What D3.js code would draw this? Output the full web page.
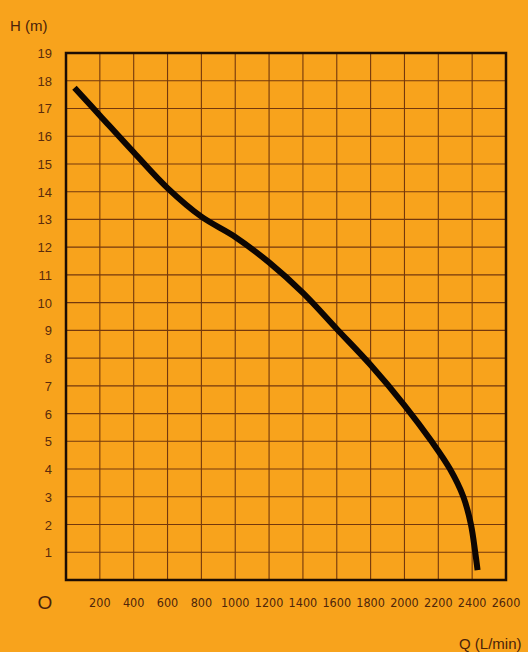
<!DOCTYPE html>
<html>
<head>
<meta charset="utf-8">
<script src="https://cdn.jsdelivr.net/npm/d3@7"></script>
<style>
  html, body { margin: 0; padding: 0; background: #f8a31c; }
  svg { display: block; }
  .ylab { font-family: "Liberation Sans", Arial, sans-serif; font-size: 13px; fill: #5a2c0c; }
  .xlab { font-family: "Liberation Sans Narrow", "DejaVu Sans Condensed", sans-serif; font-size: 12.5px; fill: #4f260a; }
  .title { font-family: "Liberation Sans", Arial, sans-serif; font-size: 15px; fill: #4a220a; }
</style>
</head>
<body>
<svg id="chart" width="528" height="652"></svg>
<script>
// pump curve: flow Q (L/min) vs head H (m)
const flow = [50, 200, 400, 600, 800, 1000, 1200, 1400, 1600, 1800, 2000, 2160, 2269, 2348, 2393, 2418, 2432];
const head = [17.75, 16.75, 15.42, 14.13, 13.1, 12.37, 11.45, 10.35, 9.05, 7.75, 6.3, 5.0, 4.0, 3.0, 2.0, 1.0, 0.36];
const xTicks = [200, 400, 600, 800, 1000, 1200, 1400, 1600, 1800, 2000, 2200, 2400, 2600];
const yTicks = [1, 2, 3, 4, 5, 6, 7, 8, 9, 10, 11, 12, 13, 14, 15, 16, 17, 18, 19];

const svg = d3.select('#chart');
const plotL = 66, plotR = 506, plotT = 53, plotB = 580;

const x = d3.scaleLinear().domain([0, 2600]).range([plotL, plotR]);
const y = d3.scaleLinear().domain([0, 19]).range([plotB, plotT]);

svg.append('rect')
  .attr('width', 528).attr('height', 652)
  .attr('fill', '#f8a31c');

// grid
const grid = svg.append('g')
  .attr('stroke', '#74380c')
  .attr('stroke-width', 1.1);

grid.selectAll('.vg')
  .data(xTicks.slice(0, -1))
  .join('line')
  .attr('x1', d => x(d)).attr('x2', d => x(d))
  .attr('y1', plotT).attr('y2', plotB);

grid.selectAll('.hg')
  .data(yTicks.slice(0, -1))
  .join('line')
  .attr('x1', plotL).attr('x2', plotR)
  .attr('y1', d => y(d)).attr('y2', d => y(d));

// frame
svg.append('rect')
  .attr('x', plotL).attr('y', plotT)
  .attr('width', plotR - plotL).attr('height', plotB - plotT)
  .attr('fill', 'none')
  .attr('stroke', '#1c0d04')
  .attr('stroke-width', 2.5);

// axis labels
svg.append('g').selectAll('text')
  .data(yTicks)
  .join('text')
  .attr('class', 'ylab')
  .attr('x', 52)
  .attr('y', d => y(d) + 5)
  .attr('text-anchor', 'end')
  .text(d => d);

svg.append('g').selectAll('text')
  .data(xTicks)
  .join('text')
  .attr('class', 'xlab')
  .attr('x', d => x(d))
  .attr('y', 607)
  .attr('text-anchor', 'middle')
  .text(d => d);

svg.append('text')
  .attr('class', 'title')
  .attr('x', 45).attr('y', 609)
  .attr('text-anchor', 'middle')
  .style('font-size', '19px')
  .text('O');

svg.append('text')
  .attr('class', 'title')
  .attr('x', 10).attr('y', 31)
  .text('H (m)');

svg.append('text')
  .attr('class', 'title')
  .attr('x', 459).attr('y', 649)
  .text('Q (L/min)');

// curve
const pts = flow.map((q, i) => [q, head[i]]);
const line = d3.line()
  .x(d => x(d[0]))
  .y(d => y(d[1]))
  .curve(d3.curveCatmullRom.alpha(0.5));

svg.append('path')
  .datum(pts)
  .attr('d', line)
  .attr('fill', 'none')
  .attr('stroke', '#0d0603')
  .attr('stroke-width', 6)
  .attr('stroke-linecap', 'butt');
</script>
</body>
</html>
